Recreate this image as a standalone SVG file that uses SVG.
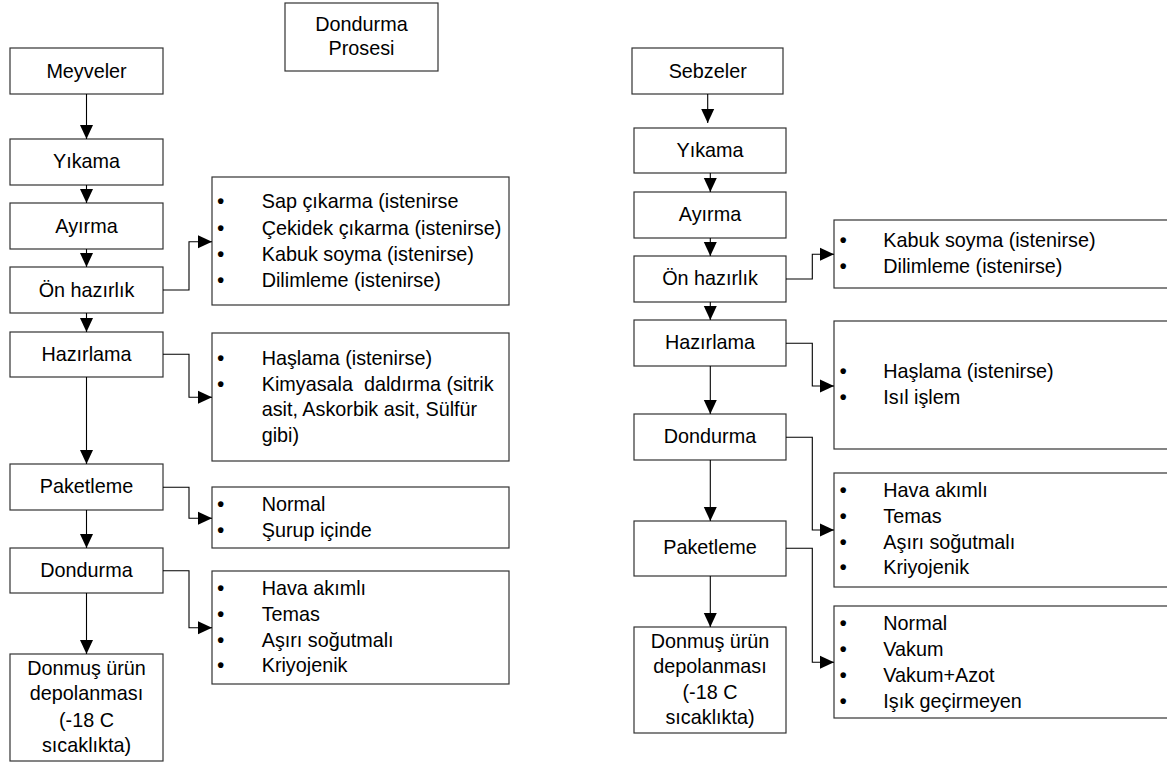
<svg xmlns="http://www.w3.org/2000/svg" width="1167" height="762" viewBox="0 0 1167 762">
<style>
.b{fill:#fff;stroke:#333;stroke-width:1.2}
.t{font-family:"Liberation Sans",Arial,sans-serif;font-size:19.8px;fill:#000}
.c{text-anchor:middle}
.k{text-anchor:middle;font-weight:bold}
.w{fill:none;stroke:#000;stroke-width:1.1}
</style>
<defs>
<marker id="ah" markerUnits="userSpaceOnUse" markerWidth="14" markerHeight="13" refX="14" refY="6.5" orient="auto" overflow="visible">
<path d="M0,0 L14,6.5 L0,13 z" fill="#000"/>
</marker>
</defs>
<rect width="1167" height="762" fill="#fff"/>

<g id="title"><rect class="b" x="285" y="3" width="153" height="68"/>
<text class="t c" x="361.5" y="31">Dondurma</text><text class="t c" x="361.5" y="55">Prosesi</text></g>

<!-- Left column -->
<g id="l-meyveler"><rect class="b" x="10" y="48" width="153" height="46"/><text class="t c" x="86.5" y="78">Meyveler</text></g>
<g id="l-yikama"><rect class="b" x="10" y="139" width="153" height="46"/><text class="t c" x="86.5" y="168">Yıkama</text></g>
<g id="l-ayirma"><rect class="b" x="10" y="203" width="153" height="46"/><text class="t c" x="86.5" y="233">Ayırma</text></g>
<g id="l-onhazirlik"><rect class="b" x="10" y="267" width="153" height="46"/><text class="t c" x="86.5" y="297">Ön hazırlık</text></g>
<g id="l-hazirlama"><rect class="b" x="10" y="332" width="153" height="45"/><text class="t c" x="86.5" y="361">Hazırlama</text></g>
<g id="l-paketleme"><rect class="b" x="10" y="464" width="153" height="46"/><text class="t c" x="86.5" y="493">Paketleme</text></g>
<g id="l-dondurma"><rect class="b" x="10" y="548" width="153" height="45"/><text class="t c" x="86.5" y="577">Dondurma</text></g>
<g id="l-donmus"><rect class="b" x="10" y="654" width="153" height="107"/>
<text class="t c" x="86.5" y="675">Donmuş ürün</text><text class="t c" x="86.5" y="700">depolanması</text><text class="t c" x="86.5" y="726.5">(-18 C</text><text class="t c" x="86.5" y="751.5">sıcaklıkta)</text></g>

<g id="l-list1"><rect class="b" x="212" y="177" width="297" height="128"/>
<text class="t k" x="220.7" y="208.3">•</text><text class="t" x="261.7" y="208.3">Sap çıkarma (istenirse</text>
<text class="t k" x="220.7" y="235">•</text><text class="t" x="261.7" y="235">Çekidek çıkarma (istenirse)</text>
<text class="t k" x="220.7" y="260.7">•</text><text class="t" x="261.7" y="260.7">Kabuk soyma (istenirse)</text>
<text class="t k" x="220.7" y="286.7">•</text><text class="t" x="261.7" y="286.7">Dilimleme (istenirse)</text></g>
<g id="l-list2"><rect class="b" x="212" y="333" width="297" height="128"/>
<text class="t k" x="220.7" y="365">•</text><text class="t" x="261.7" y="365">Haşlama (istenirse)</text>
<text class="t k" x="220.7" y="390.7">•</text><text class="t" x="261.7" y="390.7" xml:space="preserve">Kimyasala  daldırma (sitrik</text>
<text class="t" x="261.7" y="416">asit, Askorbik asit, Sülfür</text>
<text class="t" x="261.7" y="441.7">gibi)</text></g>
<g id="l-list3"><rect class="b" x="212" y="487" width="297" height="61"/>
<text class="t k" x="220.7" y="511">•</text><text class="t" x="261.7" y="511">Normal</text>
<text class="t k" x="220.7" y="536.7">•</text><text class="t" x="261.7" y="536.7">Şurup içinde</text></g>
<g id="l-list4"><rect class="b" x="212" y="571" width="297" height="113"/>
<text class="t k" x="220.7" y="595">•</text><text class="t" x="261.7" y="595">Hava akımlı</text>
<text class="t k" x="220.7" y="620.7">•</text><text class="t" x="261.7" y="620.7">Temas</text>
<text class="t k" x="220.7" y="646.7">•</text><text class="t" x="261.7" y="646.7">Aşırı soğutmalı</text>
<text class="t k" x="220.7" y="672.3">•</text><text class="t" x="261.7" y="672.3">Kriyojenik</text></g>

<!-- Right column -->
<g id="r-sebzeler"><rect class="b" x="632" y="48" width="151" height="46"/><text class="t c" x="707.7" y="77.7">Sebzeler</text></g>
<g id="r-yikama"><rect class="b" x="634" y="128" width="152" height="45"/><text class="t c" x="710" y="157">Yıkama</text></g>
<g id="r-ayirma"><rect class="b" x="634" y="192" width="152" height="46"/><text class="t c" x="710" y="221">Ayırma</text></g>
<g id="r-onhazirlik"><rect class="b" x="634" y="256" width="152" height="46"/><text class="t c" x="710" y="285">Ön hazırlık</text></g>
<g id="r-hazirlama"><rect class="b" x="634" y="320" width="152" height="46"/><text class="t c" x="710" y="349">Hazırlama</text></g>
<g id="r-dondurma"><rect class="b" x="634" y="414" width="152" height="46"/><text class="t c" x="710" y="443">Dondurma</text></g>
<g id="r-paketleme"><rect class="b" x="634" y="521" width="152" height="55"/><text class="t c" x="710" y="554">Paketleme</text></g>
<g id="r-donmus"><rect class="b" x="634" y="627" width="152" height="106"/>
<text class="t c" x="710" y="648.3">Donmuş ürün</text><text class="t c" x="710" y="673.3">depolanması</text><text class="t c" x="710" y="699.3">(-18 C</text><text class="t c" x="710" y="724.3">sıcaklıkta)</text></g>

<g id="r-list1"><rect class="b" x="834" y="220" width="346" height="68"/>
<text class="t k" x="843.3" y="247.3">•</text><text class="t" x="883.3" y="247.3">Kabuk soyma (istenirse)</text>
<text class="t k" x="843.3" y="272.7">•</text><text class="t" x="883.3" y="272.7">Dilimleme (istenirse)</text></g>
<g id="r-list2"><rect class="b" x="834" y="321" width="346" height="128"/>
<text class="t k" x="843.3" y="378.3">•</text><text class="t" x="883.3" y="378.3">Haşlama (istenirse)</text>
<text class="t k" x="843.3" y="404">•</text><text class="t" x="883.3" y="404">Isıl işlem</text></g>
<g id="r-list3"><rect class="b" x="834" y="473" width="346" height="114"/>
<text class="t k" x="843.3" y="496.7">•</text><text class="t" x="883.3" y="496.7">Hava akımlı</text>
<text class="t k" x="843.3" y="523.3">•</text><text class="t" x="883.3" y="523.3">Temas</text>
<text class="t k" x="843.3" y="549.3">•</text><text class="t" x="883.3" y="549.3">Aşırı soğutmalı</text>
<text class="t k" x="843.3" y="574.3">•</text><text class="t" x="883.3" y="574.3">Kriyojenik</text></g>
<g id="r-list4"><rect class="b" x="834" y="606" width="346" height="112"/>
<text class="t k" x="843.3" y="630">•</text><text class="t" x="883.3" y="630">Normal</text>
<text class="t k" x="843.3" y="656">•</text><text class="t" x="883.3" y="656">Vakum</text>
<text class="t k" x="843.3" y="681.7">•</text><text class="t" x="883.3" y="681.7">Vakum+Azot</text>
<text class="t k" x="843.3" y="707.7">•</text><text class="t" x="883.3" y="707.7">Işık geçirmeyen</text></g>

<g id="connectors" class="w">
<path class="w" marker-end="url(#ah)" d="M86.5,94 V139"/>
<path class="w" marker-end="url(#ah)" d="M86.5,185 V203"/>
<path class="w" marker-end="url(#ah)" d="M86.5,249 V267"/>
<path class="w" marker-end="url(#ah)" d="M86.5,313 V332"/>
<path class="w" marker-end="url(#ah)" d="M86.5,377 V464"/>
<path class="w" marker-end="url(#ah)" d="M86.5,510 V548"/>
<path class="w" marker-end="url(#ah)" d="M86.5,593 V654"/>
<path class="w" marker-end="url(#ah)" d="M163,290 H189 V241.7 H212"/>
<path class="w" marker-end="url(#ah)" d="M163,354.3 H189 V397.3 H212"/>
<path class="w" marker-end="url(#ah)" d="M163,487.3 H189 V518.3 H212"/>
<path class="w" marker-end="url(#ah)" d="M163,570.7 H189 V627.7 H212"/>
<path class="w" marker-end="url(#ah)" d="M707.7,94 V123"/>
<path class="w" marker-end="url(#ah)" d="M710.3,173 V192"/>
<path class="w" marker-end="url(#ah)" d="M710.3,238 V256"/>
<path class="w" marker-end="url(#ah)" d="M710.3,302 V320"/>
<path class="w" marker-end="url(#ah)" d="M710.3,366 V414"/>
<path class="w" marker-end="url(#ah)" d="M710.3,460 V521"/>
<path class="w" marker-end="url(#ah)" d="M710.3,576 V627"/>
<path class="w" marker-end="url(#ah)" d="M786,279 H812.3 V254.3 H834"/>
<path class="w" marker-end="url(#ah)" d="M786,343.3 H812.3 V386 H834"/>
<path class="w" marker-end="url(#ah)" d="M786,437.3 H812.3 V530 H834"/>
<path class="w" marker-end="url(#ah)" d="M786,548.3 H812.3 V662.3 H834"/>
</g>
</svg>
